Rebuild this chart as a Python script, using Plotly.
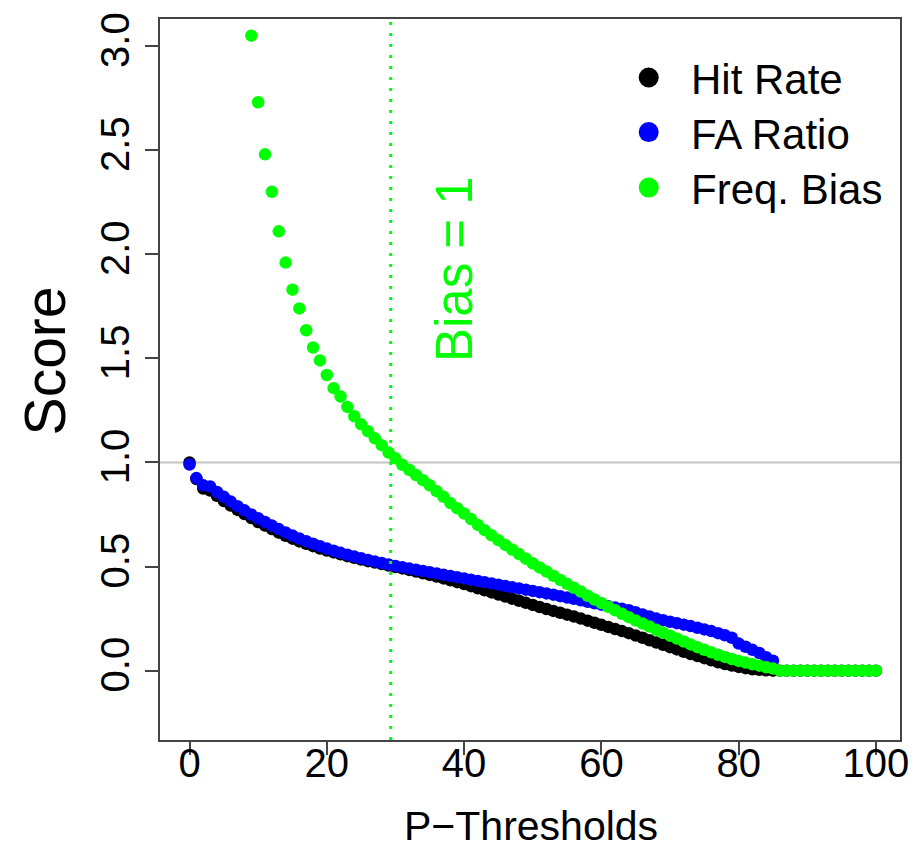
import plotly.graph_objects as go

# ---------------- data ----------------
thresholds = list(range(0, 101))

hit_rate = [
    1.0, 0.92, 0.875, 0.865, 0.84, 0.815, 0.793, 0.772, 0.752, 0.733,
    0.714, 0.697, 0.68, 0.663, 0.648, 0.634, 0.621, 0.609, 0.598, 0.587,
    0.577, 0.568, 0.559, 0.55, 0.542, 0.534, 0.526, 0.519, 0.512, 0.505,
    0.498, 0.491, 0.484, 0.476, 0.468, 0.46, 0.452, 0.443, 0.434, 0.425,
    0.416, 0.406, 0.396, 0.386, 0.376, 0.366, 0.356, 0.346, 0.336, 0.326,
    0.316, 0.306, 0.296, 0.287, 0.278, 0.269, 0.26, 0.25, 0.24, 0.23,
    0.22, 0.21, 0.2, 0.19, 0.18, 0.169, 0.158, 0.146, 0.135, 0.124,
    0.113, 0.102, 0.091, 0.08, 0.07, 0.06, 0.05, 0.04, 0.032, 0.025,
    0.018, 0.012, 0.007, 0.004, 0.002, 0.0, 0.0, 0.0, 0.0, 0.0,
    0.0, 0.0, 0.0, 0.0, 0.0, 0.0, 0.0, 0.0, 0.0, 0.0, 0.0,
]

fa_x = list(range(0, 86))
fa_ratio = [
    0.99, 0.925, 0.89, 0.885, 0.858, 0.835, 0.812, 0.79, 0.77, 0.75,
    0.732, 0.714, 0.697, 0.68, 0.664, 0.649, 0.635, 0.622, 0.61, 0.598,
    0.587, 0.576, 0.566, 0.557, 0.548, 0.54, 0.532, 0.524, 0.517, 0.51,
    0.503, 0.497, 0.491, 0.485, 0.479, 0.473, 0.467, 0.461, 0.455, 0.449,
    0.443, 0.437, 0.431, 0.425, 0.419, 0.413, 0.407, 0.401, 0.395, 0.389,
    0.383, 0.377, 0.371, 0.365, 0.358, 0.351, 0.345, 0.338, 0.331, 0.324,
    0.317, 0.31, 0.303, 0.297, 0.29, 0.28, 0.27, 0.26, 0.25, 0.242,
    0.235, 0.228, 0.221, 0.214, 0.206, 0.198, 0.19, 0.18, 0.17, 0.158,
    0.13, 0.115, 0.1, 0.085, 0.065, 0.048,
]

fb_x = list(range(9, 101))
freq_bias = [
    3.05, 2.73, 2.48, 2.30, 2.11, 1.96, 1.83, 1.74, 1.635, 1.552,
    1.49, 1.42, 1.357, 1.317, 1.267, 1.222, 1.183, 1.15, 1.116, 1.083,
    1.048, 1.02, 0.989, 0.965, 0.94, 0.915, 0.89, 0.862, 0.835, 0.805,
    0.78, 0.755, 0.728, 0.70, 0.675, 0.65, 0.627, 0.604, 0.582, 0.56,
    0.538, 0.516, 0.496, 0.476, 0.456, 0.436, 0.417, 0.398, 0.38, 0.36,
    0.342, 0.325, 0.307, 0.29, 0.273, 0.257, 0.241, 0.226, 0.212, 0.196,
    0.182, 0.168, 0.154, 0.14, 0.126, 0.113, 0.10, 0.088, 0.076, 0.066,
    0.056, 0.047, 0.039, 0.031, 0.024, 0.017, 0.01, 0.0, 0.0, 0.0,
    0.0, 0.0, 0.0, 0.0, 0.0, 0.0, 0.0, 0.0, 0.0, 0.0, 0.0, 0.0,
]

series_names = ["Hit Rate", "FA Ratio", "Freq. Bias"]
series_colors = ["#000000", "#0000FF", "#00FF00"]

x_ticks = [0, 20, 40, 60, 80, 100]
y_ticks = [0.0, 0.5, 1.0, 1.5, 2.0, 2.5, 3.0]
y_tick_labels = ["0.0", "0.5", "1.0", "1.5", "2.0", "2.5", "3.0"]

bias_threshold = 29.3
ref_level = 1.0

# ---------------- layout geometry ----------------
W, H = 921, 849
L, R, T, B = 160, 13, 13, 109
PW, PH = W - L - R, H - T - B
FONT = "Liberation Sans, Arial, sans-serif"


def px_to_paper(px, py):
    return (px - L) / PW, (H - B - py) / PH


fig = go.Figure()
for xs, ys, name, col in [
    (thresholds, hit_rate, series_names[0], series_colors[0]),
    (fa_x, fa_ratio, series_names[1], series_colors[1]),
    (fb_x, freq_bias, series_names[2], series_colors[2]),
]:
    fig.add_trace(go.Scatter(
        x=xs, y=ys, mode="markers", name=name,
        marker=dict(color=col, size=12.5, line=dict(width=0)),
        showlegend=False, cliponaxis=True,
    ))

# reference lines
fig.add_shape(type="line", xref="paper", yref="y", x0=0, x1=1,
              y0=ref_level, y1=ref_level,
              line=dict(color="#C4C4C4", width=2), layer="below")
fig.add_shape(type="line", xref="x", yref="paper", x0=bias_threshold,
              x1=bias_threshold, y0=0, y1=1,
              line=dict(color="#00FF00", width=3, dash="3px,8px"), layer="above")

fig.add_annotation(x=38.7, y=1.93, xref="x", yref="y", text="Bias = 1",
                   textangle=-90, showarrow=False,
                   font=dict(family=FONT, size=51, color="#00FF00"))

# legend (manual)
leg_rows = [72, 127, 183]
for name, col, py in zip(series_names, series_colors, leg_rows):
    cx, cy = px_to_paper(654, py)
    fig.add_shape(type="circle", xref="paper", yref="paper",
                  xsizemode="pixel", ysizemode="pixel",
                  xanchor=cx, yanchor=cy, x0=-10, x1=10, y0=-10, y1=10,
                  fillcolor=col, line=dict(width=0))
    tx, ty = px_to_paper(695, py + 2)
    fig.add_annotation(x=tx, y=ty, xref="paper", yref="paper", text=name,
                       showarrow=False, xanchor="left", yanchor="middle",
                       font=dict(family=FONT, size=42, color="black"))

# axis titles
sx, sy = px_to_paper(44, 358)
fig.add_annotation(x=sx, y=sy, xref="paper", yref="paper", text="Score",
                   textangle=-90, showarrow=False, xanchor="center", yanchor="middle",
                   font=dict(family=FONT, size=57, color="black"))
px_, py_ = px_to_paper(535, 827)
fig.add_annotation(x=px_, y=py_, xref="paper", yref="paper", text="P\u2212Thresholds",
                   showarrow=False, xanchor="center", yanchor="middle",
                   font=dict(family=FONT, size=41, color="black"))

fig.update_layout(
    width=W, height=H,
    margin=dict(l=L, r=R, t=T, b=B, pad=0),
    paper_bgcolor="white", plot_bgcolor="white",
    showlegend=False,
    font=dict(family=FONT, color="black"),
)
fig.update_xaxes(
    range=[-4.3, 103.5], tickmode="array", tickvals=x_ticks,
    ticks="outside", ticklen=13, tickwidth=1.5, tickcolor="#444",
    showline=True, linecolor="#444", linewidth=1.5, mirror=True,
    showgrid=False, zeroline=False,
    tickfont=dict(family=FONT, size=40, color="black"),
    ticklabelstandoff=-26,
)
fig.update_yaxes(
    range=[-0.333, 3.13], tickmode="array", tickvals=y_ticks, ticktext=y_tick_labels,
    tickangle=-90,
    ticks="outside", ticklen=13, tickwidth=1.5, tickcolor="#444",
    showline=True, linecolor="#444", linewidth=1.5, mirror=True,
    showgrid=False, zeroline=False,
    tickfont=dict(family=FONT, size=40, color="black"),
    ticklabelstandoff=0,
)

fig.write_html("out.html")
